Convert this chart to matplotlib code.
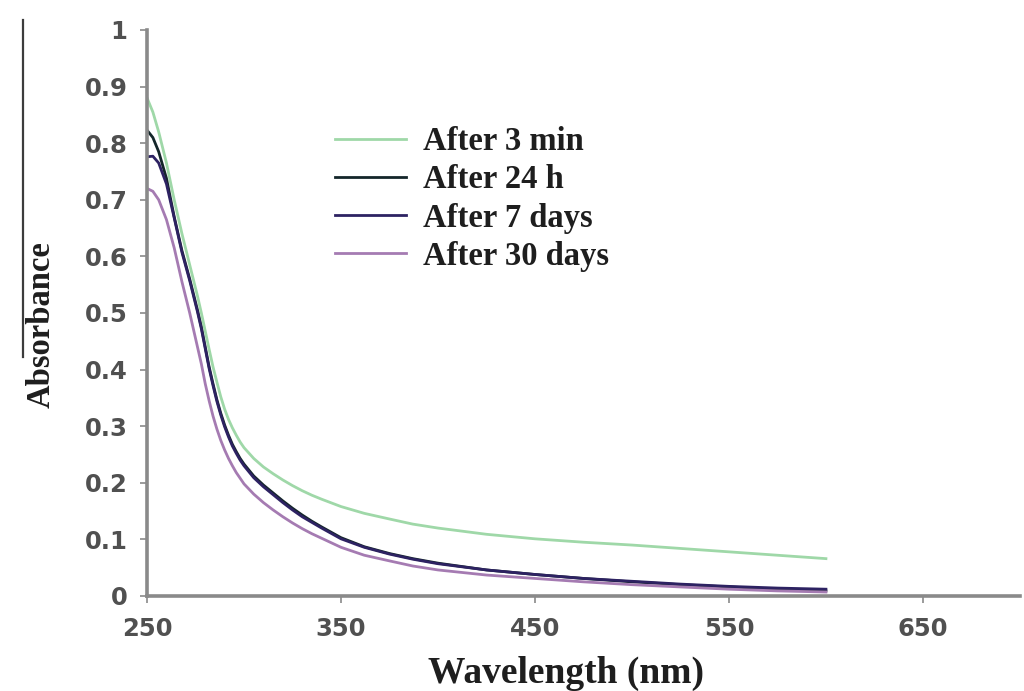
import matplotlib
matplotlib.use("Agg")
import matplotlib.pyplot as plt
from matplotlib.lines import Line2D

# Wavelength grid (nm) and absorbance readings for each ageing time
wavelength = [250, 253, 256, 260, 264, 268, 272, 276, 278, 280, 282, 284, 286,
              288, 290, 292, 294, 296, 298, 300, 305, 310, 315, 320, 325, 330,
              335, 340, 350, 362, 375, 387, 400, 425, 450, 475, 500, 525, 550,
              575, 600]

after_3_min = [0.880, 0.855, 0.820, 0.765, 0.700, 0.640, 0.585, 0.530, 0.500,
               0.468, 0.436, 0.405, 0.378, 0.352, 0.330, 0.312, 0.297, 0.284,
               0.272, 0.262, 0.243, 0.228, 0.216, 0.205, 0.195, 0.186, 0.178,
               0.171, 0.158, 0.146, 0.136, 0.127, 0.120, 0.109, 0.101, 0.095,
               0.090, 0.084, 0.078, 0.072, 0.066]

after_24_h = [0.823, 0.810, 0.785, 0.738, 0.670, 0.610, 0.560, 0.505, 0.475,
              0.440, 0.405, 0.375, 0.347, 0.323, 0.302, 0.284, 0.268, 0.255,
              0.243, 0.233, 0.212, 0.196, 0.182, 0.168, 0.155, 0.143, 0.132,
              0.122, 0.103, 0.087, 0.075, 0.066, 0.058, 0.046, 0.038, 0.031,
              0.025, 0.020, 0.016, 0.012, 0.009]

after_7_days = [0.776, 0.777, 0.765, 0.728, 0.668, 0.607, 0.557, 0.502, 0.472,
                0.437, 0.402, 0.372, 0.344, 0.320, 0.299, 0.281, 0.265, 0.252,
                0.240, 0.230, 0.209, 0.193, 0.179, 0.165, 0.152, 0.140, 0.130,
                0.120, 0.101, 0.086, 0.074, 0.065, 0.057, 0.046, 0.038, 0.031,
                0.026, 0.021, 0.017, 0.014, 0.012]

after_30_days = [0.720, 0.715, 0.700, 0.665, 0.615, 0.555, 0.500, 0.440, 0.410,
                 0.375, 0.345, 0.318, 0.295, 0.275, 0.258, 0.243, 0.230, 0.218,
                 0.208, 0.198, 0.180, 0.165, 0.152, 0.140, 0.129, 0.119, 0.110,
                 0.102, 0.086, 0.072, 0.062, 0.053, 0.046, 0.037, 0.031, 0.025,
                 0.020, 0.016, 0.012, 0.009, 0.007]

series_labels = ["After 3 min", "After 24 h", "After 7 days", "After 30 days"]
series_values = [after_3_min, after_24_h, after_7_days, after_30_days]
series_colors = ["#9fd8a8", "#14262a", "#2d2262", "#a57bb2"]

x_ticks = [250, 350, 450, 550, 650]
y_ticks = [0, 0.1, 0.2, 0.3, 0.4, 0.5, 0.6, 0.7, 0.8, 0.9, 1]
y_tick_labels = ["0", "0.1", "0.2", "0.3", "0.4", "0.5", "0.6", "0.7", "0.8",
                 "0.9", "1"]

fig = plt.figure(figsize=(10.24, 6.91), dpi=100)
ax = fig.add_axes([0.1436, 0.1375, 0.996 - 0.1436, 0.9566 - 0.1375])

for vals, lab, col in zip(series_values, series_labels, series_colors):
    ax.plot(wavelength, vals, color=col, lw=2.0, label=lab,
            solid_joinstyle="round")

ax.set_xlim(250, 700)
ax.set_ylim(0, 1)
ax.set_xticks(x_ticks)
ax.set_yticks(y_ticks)
ax.set_yticklabels(y_tick_labels)

for side in ("top", "right"):
    ax.spines[side].set_visible(False)
for side in ("left", "bottom"):
    ax.spines[side].set_color("#8a8a8a")
    ax.spines[side].set_linewidth(2.6)

ax.tick_params(axis="both", colors="#8a8a8a", labelcolor="#505050",
               labelsize=17.5, width=1.2, length=5)
ax.tick_params(axis="y", pad=9)
ax.tick_params(axis="x", pad=10)
for t in ax.get_xticklabels() + ax.get_yticklabels():
    t.set_family("DejaVu Sans")
    t.set_weight("bold")

label_font = dict(family="Liberation Serif", weight="bold", color="#1e1e1e")
fig.text(0.553, 0.012, "Wavelength (nm)", fontsize=27, ha="center",
         va="baseline", **label_font)
fig.text(0.040, 0.530, "Absorbance", fontsize=23.5, ha="center", va="center",
         rotation=90, **label_font)

# thin rule standing to the left of the y label
fig.add_artist(Line2D([23 / 1024, 23 / 1024], [1 - 20 / 691, 1 - 357 / 691],
                      transform=fig.transFigure, color="#3c3c3c", lw=1.6))

leg = ax.legend(loc="upper left", bbox_to_anchor=(0.2, 0.853), frameon=False,
                prop=dict(family="Liberation Serif", weight="bold", size=23.5),
                handlelength=2.2, handletextpad=0.5, labelspacing=0.22,
                borderaxespad=0)
for txt in leg.get_texts():
    txt.set_color("#1e1e1e")

fig.savefig("out.png", dpi=100, facecolor="white")
